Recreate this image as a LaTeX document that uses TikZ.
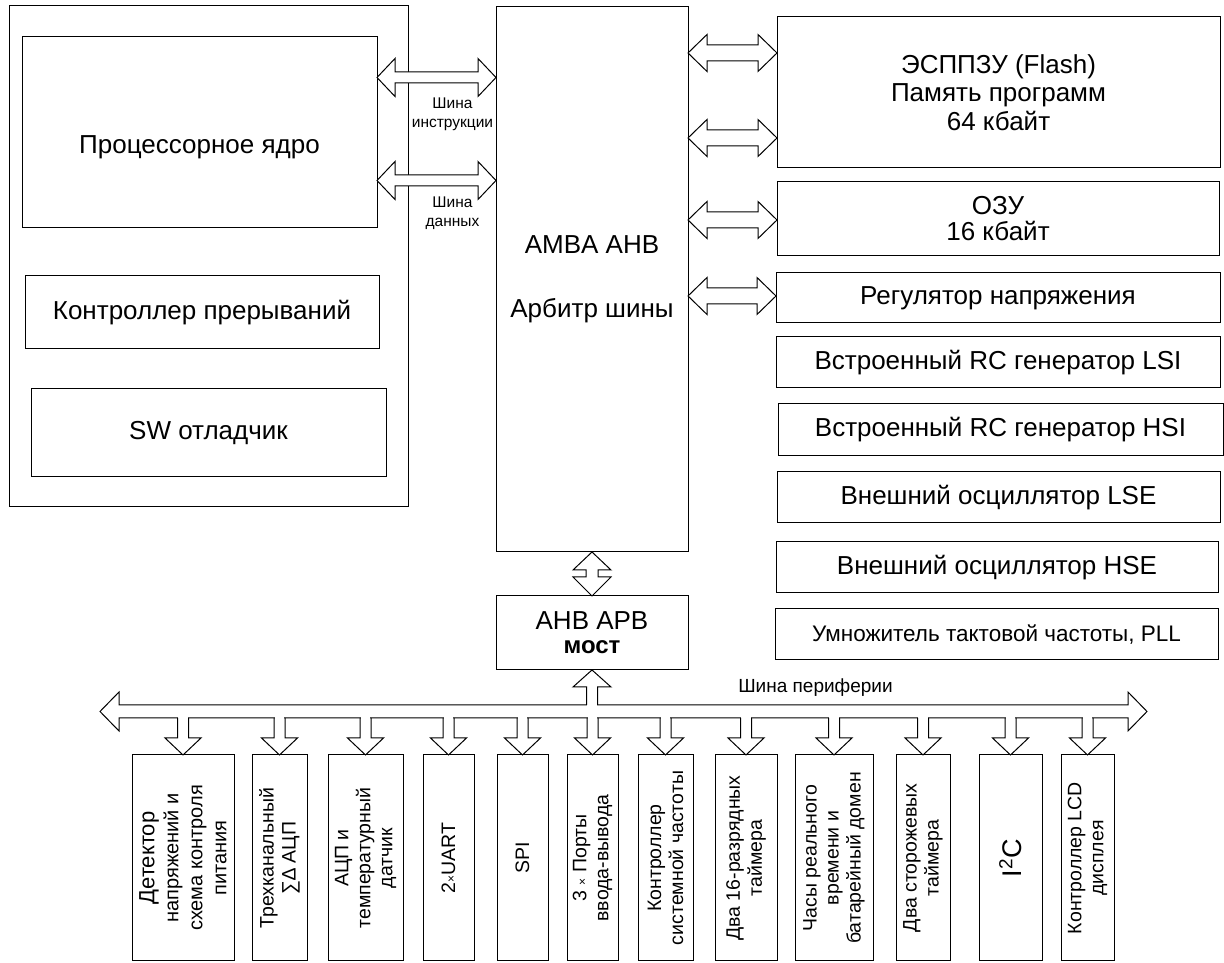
\documentclass[tikz,border=0pt]{standalone}
\usepackage{fontspec}
\setmainfont{Liberation Sans}
\usetikzlibrary{calc}
\tikzset{
  ln/.style={draw=black, line width=1pt},
  box/.style={ln, rectangle, inner sep=0pt, outer sep=0pt, align=center, font=\fontsize{26}{28}\selectfont},
  pbox/.style={ln, rectangle, inner sep=0pt, outer sep=0pt, minimum height=206pt},
  ptext/.style={rotate=90, align=center, font=\fontsize{19.5}{22}\selectfont, inner sep=0pt},
  arr/.style={ln, fill=white, line join=miter},
}
% horizontal double block arrow between two points at the same height
\newcommand\HDArrow[5]{%
  \draw[arr] let \p1=(#1), \p2=(#2) in
   (\x1,\y1) -- (\x1+#5,\y1+#4) -- (\x1+#5,\y1+#3) -- (\x2-#5,\y1+#3) -- (\x2-#5,\y1+#4) -- (\x2,\y1)
   -- (\x2-#5,\y1-#4) -- (\x2-#5,\y1-#3) -- (\x1+#5,\y1-#3) -- (\x1+#5,\y1-#4) -- cycle;}
% branch from the peripheral bus down to a box
\newcommand\DArrow[1]{%
  \fill[white] let \p1=(#1.north), \p2=(busbot) in (\x1-4.6pt,\y2-1.5pt) rectangle (\x1+4.6pt,\y2+1.2pt);
  \draw[ln, line join=miter] let \p1=(#1.north), \p2=(busbot) in
   (\x1-5.5pt,\y2) -- (\x1-5.5pt,\y1+17pt) -- (\x1-18pt,\y1+17pt) -- (\x1,\y1)
   -- (\x1+18pt,\y1+17pt) -- (\x1+5.5pt,\y1+17pt) -- (\x1+5.5pt,\y2);}
\begin{document}
\begin{tikzpicture}[x=1pt,y=1pt]
\fill[white] (0,0) rectangle (1224,963);
\useasboundingbox (0,0) rectangle (1224,963);

% left group
\node[box, minimum width=399pt, minimum height=501pt] (outer) at (208.5,706.5) {};
\node[box, minimum width=355pt, minimum height=191pt,
  label={[font=\fontsize{26}{28}\selectfont, yshift=-14.5pt]center:Процессорное ядро}] (proc) at (199.5,830.5) {};
\node[box, minimum width=354pt, minimum height=73pt] (intc) at (202,650.5) {Контроллер прерываний};
\node[box, minimum width=355pt, minimum height=88pt] (swd) at (208.5,530) {SW отладчик};

% bus matrix and bridge
\node[box, minimum width=192pt, minimum height=545pt] (amba) at (592,683.5) {AMBA AHB\\[36pt]Арбитр шины};
\node[box, minimum width=192pt, minimum height=74pt] (bridge) at (592,330)
  {AHB APB\\[-4pt]\fontsize{24}{26}\selectfont\bfseries мост};

% right column
\node[box, minimum width=443pt, minimum height=151pt, font=\fontsize{26}{28.5}\selectfont] (flash) at (998.5,870.5)
  {ЭСППЗУ (Flash)\\Память программ\\64 кбайт};
\node[box, minimum width=442pt, minimum height=74pt, font=\fontsize{26}{26}\selectfont] (ram) at (998,744) {ОЗУ\\16 кбайт};
\node[box, minimum width=444pt, minimum height=50pt] (reg) at (998,665) {Регулятор напряжения};
\node[box, minimum width=444pt, minimum height=51pt] (lsi) at (998,600.5) {Встроенный RC генератор LSI};
\node[box, minimum width=445pt, minimum height=52pt] (hsi) at (1000.5,533) {Встроенный RC генератор HSI};
\node[box, minimum width=443pt, minimum height=51pt] (lse) at (998.5,465.5) {Внешний осциллятор LSE};
\node[box, minimum width=442pt, minimum height=51pt] (hse) at (997,395.5) {Внешний осциллятор HSE};
\node[box, minimum width=443pt, minimum height=51pt, font=\fontsize{22.5}{26}\selectfont] (pll) at (996.5,328.5)
  {Умножитель тактовой частоты, PLL};

% processor <-> bus matrix
\coordinate (pi) at (proc.east |- 0,885.5);
\coordinate (pd) at (proc.east |- 0,782.5);
\HDArrow{pi}{amba.west |- pi}{5.5pt}{19pt}{18pt}
\HDArrow{pd}{amba.west |- pd}{5.5pt}{19pt}{18pt}
\node[font=\fontsize{15.5}{19}\selectfont, align=center, inner sep=0pt] (lbli) at (452.5,849) {Шина\\инструкции};
\node[font=\fontsize{15.5}{19}\selectfont, align=center, inner sep=0pt] (lbld) at (452.5,750) {Шина\\данных};

% bus matrix <-> memories / regulator
\coordinate (m1) at (amba.east |- 0,910);
\coordinate (m2) at (amba.east |- 0,825);
\coordinate (m3) at (amba.east |- 0,743);
\coordinate (m4) at (amba.east |- 0,667);
\HDArrow{m1}{flash.west |- m1}{8pt}{18.5pt}{19pt}
\HDArrow{m2}{flash.west |- m2}{8pt}{18.5pt}{19pt}
\HDArrow{m3}{ram.west |- m3}{8pt}{18.5pt}{19pt}
\HDArrow{m4}{reg.west |- m4}{8pt}{18.5pt}{19pt}

% bus matrix <-> bridge
\draw[arr] let \p1=(amba.south), \p2=(bridge.north) in
  (\x1,\y1) -- (\x1+19pt,\y1-18pt) -- (\x1+6pt,\y1-18pt) -- (\x1+6pt,\y2+19pt) -- (\x1+19pt,\y2+19pt) -- (\x2,\y2)
  -- (\x1-19pt,\y2+19pt) -- (\x1-6pt,\y2+19pt) -- (\x1-6pt,\y1-18pt) -- (\x1-19pt,\y1-18pt) -- cycle;

% peripheral bus
\coordinate (busL) at (100,251.5);
\coordinate (busR) at (1147,251.5);
\coordinate (busbot) at (0,245);
\coordinate (bustop) at (0,258);
\HDArrow{busL}{busR}{6.5pt}{19.5pt}{19pt}
\node[font=\fontsize{19}{22}\selectfont, inner sep=0pt] (buslbl) at (815.5,275) {Шина периферии};

% bridge -> bus
\fill[white] let \p1=(bridge.south), \p2=(bustop) in (\x1-4.6pt,\y2-1.2pt) rectangle (\x1+4.6pt,\y2+1.5pt);
\draw[ln, line join=miter] let \p1=(bridge.south), \p2=(bustop) in
  (\x1-5.5pt,\y2) -- (\x1-5.5pt,\y1-17pt) -- (\x1-19pt,\y1-17pt) -- (\x1,\y1)
  -- (\x1+19pt,\y1-17pt) -- (\x1+5.5pt,\y1-17pt) -- (\x1+5.5pt,\y2);

% peripherals
\node[pbox, minimum width=102pt, label={[ptext, font=\fontsize{20}{24}\selectfont]center:{{\fontsize{22}{24}\selectfont Детектор}\\напряжений и\\схема контроля\\питания}}] (p1) at (183,105) {};
\node[pbox, minimum width=55pt, label={[ptext]center:{Трехканальный\\∑∆ АЦП}}] (p2) at (279.5,105) {};
\node[pbox, minimum width=75pt, label={[ptext]center:{АЦП и\\температурный\\датчик}}] (p3) at (365.5,105) {};
\node[pbox, minimum width=51pt, label={[ptext]center:{2{\fontsize{12}{12}\selectfont ×}UART}}] (p4) at (448.5,105) {};
\node[pbox, minimum width=51pt, label={[ptext]center:{SPI}}] (p5) at (522.5,105) {};
\node[pbox, minimum width=51pt, label={[ptext]center:{3 {\fontsize{12}{12}\selectfont ×} Порты\\ввода-вывода}}] (p6) at (592.5,105) {};
\node[pbox, minimum width=55pt, label={[ptext]center:{Контроллер\\системной частоты}}] (p7) at (665.5,105) {};
\node[pbox, minimum width=62pt, label={[ptext]center:{Два 16-разрядных\\таймера}}] (p8) at (746,105) {};
\node[pbox, minimum width=78pt, label={[ptext]center:{Часы реального\\времени и\\батарейный домен}}] (p9) at (834,105) {};
\node[pbox, minimum width=54pt, label={[ptext]center:{Два сторожевых\\таймера}}] (p10) at (923,105) {};
\node[pbox, minimum width=63pt, label={[ptext, font=\fontsize{27}{30}\selectfont]center:{I\textsuperscript{2}C}}] (p11) at (1010.5,105) {};
\node[pbox, minimum width=53pt, label={[ptext]center:{Контроллер LCD\\дисплея}}] (p12) at (1087.5,105) {};

\foreach \pn in {p1,p2,p3,p4,p5,p6,p7,p8,p9,p10,p11,p12} {\DArrow{\pn}}
\end{tikzpicture}
\end{document}
